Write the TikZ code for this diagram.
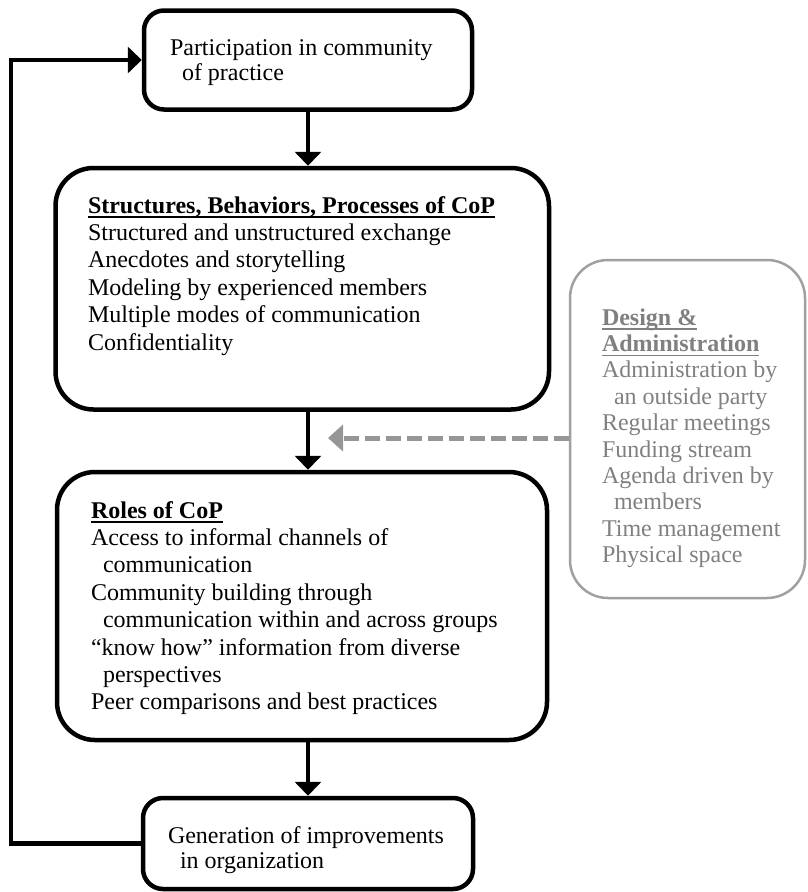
\documentclass[tikz,border=0pt]{standalone}
\usepackage{fontspec}
\setmainfont{Liberation Serif}
\usetikzlibrary{arrows.meta}
\definecolor{boxgray}{RGB}{160,160,160}
\definecolor{textgray}{RGB}{128,128,128}
\definecolor{arrowgray}{RGB}{150,150,150}
\newcommand\myul[1]{\leavevmode\setbox0\hbox{#1}\rlap{\rule[-4.5pt]{\wd0}{1.2pt}}\box0}
\newcommand\ind{\hspace*{0.5em}}
\begin{document}
\begin{tikzpicture}[x=1pt,y=-1pt,
  blackbox/.style={draw=black,line width=4.5pt,inner sep=0pt},
  graybox/.style={draw=boxgray,line width=2.5pt,inner sep=0pt,rounded corners=38pt},
  txt/.style={anchor=base west,inner sep=0pt,outer sep=0pt},
  arr/.style={line width=4.5pt,-{Triangle[length=14pt,width=26pt]}},
  garr/.style={line width=5pt,draw=arrowgray,dash pattern=on 15pt off 6pt,
     -{Triangle[length=15pt,width=26pt,fill=arrowgray]}}]
\useasboundingbox (0,0) rectangle (807,892);

% boxes
\node[blackbox,rounded corners=20pt,minimum width=328pt,minimum height=99pt] (b1) at (308,60) {};
\node[blackbox,rounded corners=38pt,minimum width=493.5pt,minimum height=241.5pt] (b2) at (302.25,288.75) {};
\node[blackbox,rounded corners=38pt,minimum width=490pt,minimum height=268pt] (b3) at (302,606) {};
\node[blackbox,rounded corners=20pt,minimum width=330pt,minimum height=91pt] (b4) at (308,843.5) {};
\node[graybox,minimum width=235pt,minimum height=338pt] (dz) at (687.5,429) {};

% texts
\node[txt] (t1) at (170,55) {\parbox[t]{300pt}{\fontsize{24}{25}\selectfont\raggedright
Participation in community\\
\ind of practice}};
\node[txt] (t2) at (88,213) {\parbox[t]{450pt}{\fontsize{24}{27.4}\selectfont\raggedright
\myul{\textbf{Structures, Behaviors, Processes of CoP}}\\
Structured and unstructured exchange\\
Anecdotes and storytelling\\
Modeling by experienced members\\
Multiple modes of communication\\
Confidentiality}};
\node[txt] (t3) at (91,518) {\parbox[t]{450pt}{\fontsize{24}{27.4}\selectfont\raggedright
\myul{\textbf{Roles of CoP}}\\
Access to informal channels of\\
\ind communication\\
Community building through\\
\ind communication within and across groups\\
“know how” information from diverse\\
\ind perspectives\\
Peer comparisons and best practices}};
\node[txt] (t4) at (168,843) {\parbox[t]{300pt}{\fontsize{24}{25}\selectfont\raggedright
Generation of improvements\\
\ind in organization}};
\node[txt,text=textgray] (t5) at (602,325) {\parbox[t]{200pt}{\fontsize{24}{26.4}\selectfont\raggedright
\myul{\textbf{Design \&}}\\
\myul{\textbf{Administration}}\\
Administration by\\
\ind an outside party\\
Regular meetings\\
Funding stream\\
Agenda driven by\\
\ind members\\
Time management\\
Physical space}};

% connectors
\draw[arr] (b1.south) -- (b1.south |- b2.north);
\draw[arr] (b1.south |- b2.south) -- (b1.south |- b3.north);
\draw[arr] (b4.north |- b3.south) -- (b4.north);
\draw[arr] (b4.west) -- ++(-130,0) |- (b1.west);
\coordinate (gtip) at (328,438);
\draw[garr] (dz.west |- gtip) -- (gtip);
\end{tikzpicture}
\end{document}
